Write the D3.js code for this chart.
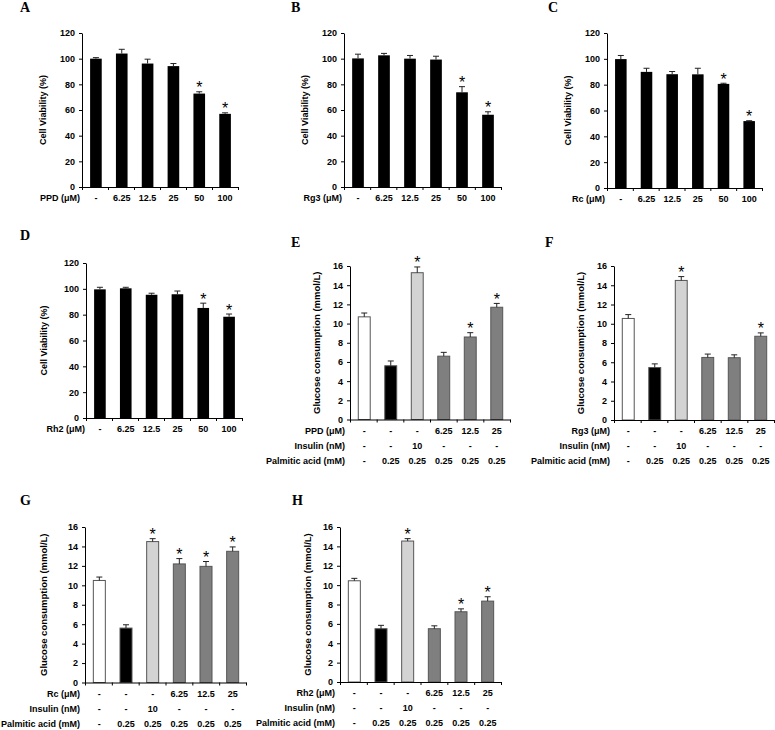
<!DOCTYPE html>
<html>
<head>
<meta charset="utf-8">
<script src="https://cdn.jsdelivr.net/npm/d3@7"></script>
<style>
  body { margin: 0; background: #fff; }
  text { font-family: "Liberation Sans", Arial, sans-serif; font-weight: bold; }
  .letter { font-family: "Liberation Serif", "Times New Roman", serif; font-size: 14px; }
</style>
</head>
<body>
<div id="chart"></div>
<script>
// ---- data ----
const doseLabels = ['-', '6.25', '12.5', '25', '50', '100'];

const ppdViability = [100, 104, 96.2, 94.2, 72.8, 57];
const ppdViabilityErr = [0.8, 3.3, 3.4, 2, 1.4, 0.8];
const ppdViabilitySig = [0, 0, 0, 0, 1, 1];

const rg3Viability = [100.2, 102.6, 100, 99.3, 73.8, 56.3];
const rg3ViabilityErr = [3.3, 1.5, 2.5, 2.6, 4.4, 2.3];
const rg3ViabilitySig = [0, 0, 0, 0, 1, 1];

const rcViability = [99.8, 89.9, 88.1, 88, 80.6, 51.8];
const rcViabilityErr = [2.8, 2.8, 2.1, 4.7, 0.5, 0.3];
const rcViabilitySig = [0, 0, 0, 0, 1, 1];

const rh2Viability = [99.6, 100.4, 95.4, 95.8, 85.2, 78.4];
const rh2ViabilityErr = [1.6, 0.8, 1.2, 2.5, 3.7, 2.1];
const rh2ViabilitySig = [0, 0, 0, 0, 1, 1];

const ginsenosideRow = ['-', '-', '-', '6.25', '12.5', '25'];
const insulinRow = ['-', '-', '10', '-', '-', '-'];
const palmiticRow = ['-', '0.25', '0.25', '0.25', '0.25', '0.25'];

const ppdGlucose = [10.7, 5.6, 15.3, 6.6, 8.6, 11.7];
const ppdGlucoseErr = [0.4, 0.5, 0.6, 0.4, 0.45, 0.4];
const ppdGlucoseSig = [0, 0, 1, 0, 1, 1];

const rg3Glucose = [10.55, 5.45, 14.5, 6.5, 6.47, 8.7];
const rg3GlucoseErr = [0.4, 0.38, 0.4, 0.35, 0.3, 0.35];
const rg3GlucoseSig = [0, 0, 1, 0, 0, 1];

const rcGlucose = [10.5, 5.6, 14.5, 12.2, 11.95, 13.5];
const rcGlucoseErr = [0.35, 0.34, 0.3, 0.55, 0.5, 0.45];
const rcGlucoseSig = [0, 0, 1, 1, 1, 1];

const rh2Glucose = [10.45, 5.5, 14.55, 5.5, 7.25, 8.35];
const rh2GlucoseErr = [0.25, 0.35, 0.25, 0.3, 0.3, 0.45];
const rh2GlucoseSig = [0, 0, 1, 0, 1, 1];

const viabilityTicks = [0, 20, 40, 60, 80, 100, 120];
const glucoseTicks = [0, 2, 4, 6, 8, 10, 12, 14, 16];

// ---- styles ----
const glucoseFill = ['#ffffff', '#000000', '#d3d3d3', '#7f7f7f', '#7f7f7f', '#7f7f7f'];

const svg = d3.select('#chart').append('svg')
  .attr('width', 775).attr('height', 730);

function drawPanel(p) {
  const g = svg.append('g');
  const n = p.values.length;
  const x = d3.scaleBand().domain(d3.range(n)).range([p.x0 + 1, p.x1])
    .paddingInner(0.55).paddingOuter(0.275);
  const xLin = d3.scaleLinear().domain([0, n]).range([p.x0, p.x1]);
  const y = d3.scaleLinear().domain([0, p.yMax]).range([p.yBottom, p.yTop]);
  const cx = i => x(i) + x.bandwidth() / 2;
  const items = p.values.map((v, i) => ({ i, v, e: p.errs[i], s: p.sig[i] }));

  g.append('text').attr('class', 'letter')
    .attr('x', p.lx).attr('y', p.ly).text(p.letter);

  // bars
  g.selectAll('rect.bar').data(items).enter().append('rect')
    .attr('class', 'bar')
    .attr('x', d => x(d.i))
    .attr('y', d => y(d.v))
    .attr('width', x.bandwidth())
    .attr('height', d => y(0) - y(d.v))
    .attr('fill', d => p.fill ? p.fill[d.i] : '#000')
    .attr('stroke', p.fill ? '#555' : 'none')
    .attr('stroke-width', 1);

  // error bars (upper only)
  const eb = g.selectAll('g.err').data(items).enter().append('g')
    .attr('class', 'err');
  eb.append('line')
    .attr('x1', d => cx(d.i)).attr('x2', d => cx(d.i))
    .attr('y1', d => y(d.v)).attr('y2', d => y(d.v + d.e))
    .attr('stroke', '#222').attr('stroke-width', 1);
  eb.append('line')
    .attr('x1', d => cx(d.i) - 3).attr('x2', d => cx(d.i) + 3)
    .attr('y1', d => y(d.v + d.e)).attr('y2', d => y(d.v + d.e))
    .attr('stroke', '#222').attr('stroke-width', 1);

  // significance stars
  g.selectAll('text.star').data(items.filter(d => d.s)).enter()
    .append('text').attr('class', 'star')
    .attr('x', d => cx(d.i))
    .attr('y', d => y(d.v + d.e) + 1.5)
    .attr('text-anchor', 'middle')
    .attr('fill', '#000')
    .style('font-weight', 'normal')
    .style('font-size', '16px')
    .text('*');

  // y axis
  const ya = g.append('g').attr('transform', `translate(${p.x0},0)`)
    .call(d3.axisLeft(y).tickValues(p.ticks).tickSize(3).tickSizeOuter(0).tickPadding(4));
  ya.selectAll('text').style('font-size', '9px').style('font-family', '"Liberation Sans", Arial')
    .style('font-weight', 'bold').attr('fill', '#000');
  ya.selectAll('line, path').attr('stroke', '#000');

  // x axis with ticks at band boundaries
  const xa = g.append('g').attr('transform', `translate(0,${p.yBottom})`)
    .call(d3.axisBottom(xLin).tickValues(d3.range(n + 1)).tickSize(3).tickSizeOuter(0).tickFormat(''));
  xa.selectAll('line, path').attr('stroke', '#000');

  // y title
  g.append('text')
    .attr('transform', `translate(${p.x0 - p.titleOff},${(p.yTop + p.yBottom) / 2}) rotate(-90)`)
    .attr('text-anchor', 'middle')
    .attr('dy', '0.35em')
    .style('font-size', p.titleSize)
    .text(p.yTitle);

  // category rows under the axis
  p.rows.forEach((row, r) => {
    const yy = p.yBottom + 14 + r * 15;
    g.append('text').attr('x', p.x0 - p.rowLabelOff).attr('y', yy)
      .attr('text-anchor', 'end').style('font-size', '9px').text(row.label);
    g.selectAll(null).data(row.values).enter().append('text')
      .attr('x', (d, i) => cx(i))
      .attr('y', yy)
      .attr('text-anchor', 'middle')
      .style('font-size', '9px')
      .text(d => d);
  });
}

const viabilityTitle = 'Cell Viability (%)';
const glucoseTitle = 'Glucose consumption (mmol/L)';

drawPanel({ letter: 'A', lx: 20, ly: 12, x0: 82, x1: 238, yTop: 33, yBottom: 187,
  yMax: 120, ticks: viabilityTicks, values: ppdViability, errs: ppdViabilityErr,
  sig: ppdViabilitySig, yTitle: viabilityTitle, titleOff: 39, titleSize: '9px', rowLabelOff: 2,
  rows: [{ label: 'PPD (μM)', values: doseLabels }] });

drawPanel({ letter: 'B', lx: 291, ly: 12, x0: 344, x1: 501, yTop: 33, yBottom: 187,
  yMax: 120, ticks: viabilityTicks, values: rg3Viability, errs: rg3ViabilityErr,
  sig: rg3ViabilitySig, yTitle: viabilityTitle, titleOff: 39, titleSize: '9px', rowLabelOff: 2,
  rows: [{ label: 'Rg3 (μM)', values: doseLabels }] });

drawPanel({ letter: 'C', lx: 548, ly: 12, x0: 607, x1: 762, yTop: 33, yBottom: 188,
  yMax: 120, ticks: viabilityTicks, values: rcViability, errs: rcViabilityErr,
  sig: rcViabilitySig, yTitle: viabilityTitle, titleOff: 39, titleSize: '9px', rowLabelOff: 2,
  rows: [{ label: 'Rc (μM)', values: doseLabels }] });

drawPanel({ letter: 'D', lx: 20, ly: 240, x0: 86, x1: 242, yTop: 263, yBottom: 418,
  yMax: 120, ticks: viabilityTicks, values: rh2Viability, errs: rh2ViabilityErr,
  sig: rh2ViabilitySig, yTitle: viabilityTitle, titleOff: 42, titleSize: '9px', rowLabelOff: 1,
  rows: [{ label: 'Rh2  (μM)', values: doseLabels }] });

drawPanel({ letter: 'E', lx: 291, ly: 247, x0: 350, x1: 510, yTop: 266, yBottom: 419.5,
  yMax: 16, ticks: glucoseTicks, values: ppdGlucose, errs: ppdGlucoseErr,
  sig: ppdGlucoseSig, yTitle: glucoseTitle, titleOff: 33, titleSize: '9.5px', rowLabelOff: 5, fill: glucoseFill,
  rows: [{ label: 'PPD (μM)', values: ginsenosideRow },
         { label: 'Insulin (nM)', values: insulinRow },
         { label: 'Palmitic acid (mM)', values: palmiticRow }] });

drawPanel({ letter: 'F', lx: 545, ly: 247, x0: 614, x1: 774, yTop: 266, yBottom: 420,
  yMax: 16, ticks: glucoseTicks, values: rg3Glucose, errs: rg3GlucoseErr,
  sig: rg3GlucoseSig, yTitle: glucoseTitle, titleOff: 33, titleSize: '9.5px', rowLabelOff: 4, fill: glucoseFill,
  rows: [{ label: 'Rg3 (μM)', values: ginsenosideRow },
         { label: 'Insulin (nM)', values: insulinRow },
         { label: 'Palmitic acid (mM)', values: palmiticRow }] });

drawPanel({ letter: 'G', lx: 20, ly: 505, x0: 85, x1: 246, yTop: 527, yBottom: 682.5,
  yMax: 16, ticks: glucoseTicks, values: rcGlucose, errs: rcGlucoseErr,
  sig: rcGlucoseSig, yTitle: glucoseTitle, titleOff: 41, titleSize: '9.5px', rowLabelOff: 5, fill: glucoseFill,
  rows: [{ label: 'Rc (μM)', values: ginsenosideRow },
         { label: 'Insulin (nM)', values: insulinRow },
         { label: 'Palmitic acid (mM)', values: palmiticRow }] });

drawPanel({ letter: 'H', lx: 292, ly: 505, x0: 340, x1: 501, yTop: 527, yBottom: 682,
  yMax: 16, ticks: glucoseTicks, values: rh2Glucose, errs: rh2GlucoseErr,
  sig: rh2GlucoseSig, yTitle: glucoseTitle, titleOff: 32, titleSize: '9.5px', rowLabelOff: 5, fill: glucoseFill,
  rows: [{ label: 'Rh2 (μM)', values: ginsenosideRow },
         { label: 'Insulin (nM)', values: insulinRow },
         { label: 'Palmitic acid (mM)', values: palmiticRow }] });
</script>
</body>
</html>
